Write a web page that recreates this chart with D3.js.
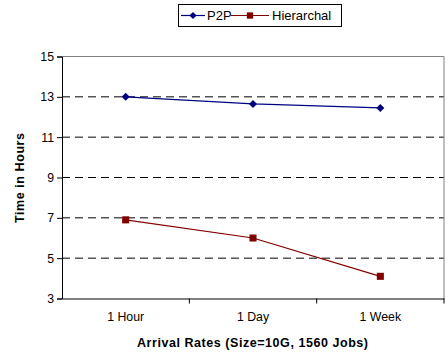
<!DOCTYPE html>
<html><head><meta charset="utf-8">
<script src="https://cdn.jsdelivr.net/npm/d3@7"></script>
<style>body{margin:0;background:#fff}svg{display:block}text{font-family:"Liberation Sans",Arial,sans-serif}</style>
</head><body>
<script>
const categories = ["1 Hour", "1 Day", "1 Week"];
const p2p = [13.0, 12.65, 12.45];
const hierarchal = [6.9, 6.0, 4.1];
const yTicks = [3, 5, 7, 9, 11, 13, 15];
const seriesNames = ["P2P", "Hierarchal"];

const W = 448, H = 356;
const m = {left: 62, right: 4, top: 56.5, bottom: 57.5};
const svg = d3.select("body").append("svg").attr("width", W).attr("height", H);
const x = d3.scaleBand().domain(categories).range([m.left, W - m.right]);
const y = d3.scaleLinear().domain([3, 15]).range([H - m.bottom, m.top]);

const diamond = {draw(ctx, size) { const r = Math.sqrt(size) / 1.5; ctx.moveTo(0, -r); ctx.lineTo(r, 0); ctx.lineTo(0, r); ctx.lineTo(-r, 0); ctx.closePath(); }};

// grid
svg.append("g").selectAll("line").data(yTicks.filter(d => d > 3 && d < 15)).join("line")
  .attr("x1", m.left).attr("x2", W - m.right)
  .attr("y1", d => y(d)).attr("y2", d => y(d))
  .attr("stroke", "#000").attr("stroke-dasharray", "8,5");

// border top/right
svg.append("path")
  .attr("d", `M${m.left},${y(15)}H${W - m.right}V${y(3)}`)
  .attr("fill", "none").attr("stroke", "#808080");

// y axis
const ya = svg.append("g").attr("transform", `translate(${m.left},0)`)
  .call(d3.axisLeft(y).tickValues(yTicks).tickSize(5).tickPadding(3));
ya.select(".domain").attr("stroke", "#000");
ya.selectAll("text").attr("font-size", 12.3).attr("fill", "#000").attr("font-family", "Liberation Sans, Arial, sans-serif");

// x axis
const xa = svg.append("g").attr("transform", `translate(0,${y(3)})`)
  .call(d3.axisBottom(x).tickSize(0).tickPadding(14));
xa.select(".domain").attr("stroke", "#000");
xa.selectAll("text").attr("font-size", 12.3).attr("fill", "#000").attr("font-family", "Liberation Sans, Arial, sans-serif");
xa.selectAll(".bnd").data(categories.slice(1).concat(["__end"])).join("line")
  .attr("x1", (d, i) => x(categories[0]) + x.step() * (i + 1))
  .attr("x2", (d, i) => x(categories[0]) + x.step() * (i + 1))
  .attr("y1", 0).attr("y2", 5).attr("stroke", "#000");

// titles
svg.append("text").attr("x", 137).attr("y", 347)
  .attr("font-size", 12.5).attr("font-weight", "bold")
  .attr("textLength", 231).attr("lengthAdjust", "spacing").text("Arrival Rates (Size=10G, 1560 Jobs)");
svg.append("text").attr("transform", "translate(24,223) rotate(-90)")
  .attr("font-size", 12.5).attr("font-weight", "bold")
  .attr("textLength", 90).attr("lengthAdjust", "spacing").text("Time in Hours");

const cx = d => x(d) + x.bandwidth() / 2;
const line = d3.line().x(d => cx(d[0])).y(d => y(d[1]));
const series = [
  {name: seriesNames[0], vals: p2p, color: "#000080", sym: diamond, size: 36},
  {name: seriesNames[1], vals: hierarchal, color: "#800000", sym: d3.symbolSquare, size: 50}
];
series.forEach(s => {
  const pts = categories.map((c, i) => [c, s.vals[i]]);
  svg.append("path").attr("d", line(pts)).attr("fill", "none").attr("stroke", s.color).attr("stroke-width", 1.2);
  svg.append("g").selectAll("path").data(pts).join("path")
    .attr("transform", d => `translate(${cx(d[0])},${y(d[1])})`)
    .attr("d", d3.symbol(s.sym, s.size)).attr("fill", s.color);
});

// legend
const lg = svg.append("g");
lg.append("rect").attr("x", 178.5).attr("y", 4.5).attr("width", 163).attr("height", 22)
  .attr("fill", "#fff").attr("stroke", "#000");
const litems = [{x0: 181, x1: 205, tx: 207}, {x0: 231, x1: 269, tx: 272}];
series.forEach((s, i) => {
  const it = litems[i];
  lg.append("line").attr("x1", it.x0).attr("x2", it.x1).attr("y1", 15.5).attr("y2", 15.5)
    .attr("stroke", s.color).attr("stroke-width", 1.2);
  lg.append("path").attr("transform", `translate(${(it.x0 + it.x1) / 2},15.5)`)
    .attr("d", d3.symbol(s.sym, s.size * 0.8)).attr("fill", s.color);
  lg.append("text").attr("x", it.tx).attr("y", 20).attr("font-size", 13).text(s.name);
});
</script>
</body></html>
